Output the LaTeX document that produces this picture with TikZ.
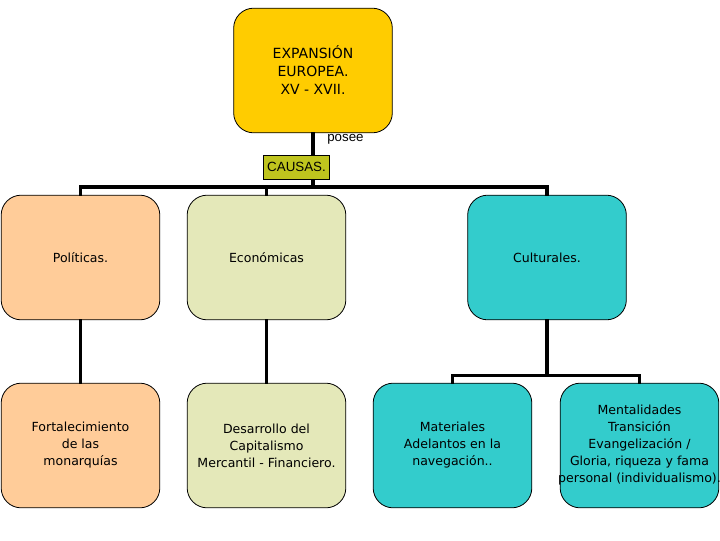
\documentclass[tikz,border=0pt]{standalone}
\usepackage{fontspec}
\setmainfont{DejaVu Sans}
\newfontfamily\arialfont{Liberation Sans}
\definecolor{cgold}{HTML}{FFCC00}
\definecolor{cpeach}{HTML}{FFCC99}
\definecolor{cpale}{HTML}{E4E8B9}
\definecolor{cteal}{HTML}{33CCCC}
\definecolor{colive}{HTML}{BFC41E}
\begin{document}
\begin{tikzpicture}[x=0.75pt,y=-0.75pt,
  box/.style={draw=black,line width=0.6pt,rounded corners=15pt,minimum width=119pt,minimum height=93.5pt,inner sep=0pt,align=center,font=\fontsize{9.4}{12.75}\selectfont},
  conn/.style={line width=2.5pt,line cap=rect}]
\useasboundingbox (0,0) rectangle (720,540);
% nodes
\node[box,fill=cgold,font=\fontsize{10.5}{13.5}\selectfont] (top) at (313,70.5) {EXPANSIÓN\\ EUROPEA.\\ XV - XVII.};
\node[box,fill=cpeach] (pol) at (80.5,257.5) {Políticas.};
\node[box,fill=cpale] (eco) at (266.5,257.5) {Económicas};
\node[box,fill=cteal] (cul) at (547,257.5) {Culturales.};
\node[box,fill=cpeach] (fort) at (80.5,445.5) {Fortalecimiento\\ de las\\ monarquías};
\node[box,fill=cpale] (des) at (266.5,445.5) {Desarrollo del\\ Capitalismo\\ Mercantil - Financiero.};
\node[box,fill=cteal] (mat) at (452.5,445.5) {Materiales\\ Adelantos en la\\ navegación..};
\node[box,fill=cteal] (ment) at (639.5,445.5) {};
\node[align=center,inner sep=0pt,font=\fontsize{9.4}{12.75}\selectfont] (mentText) at (ment.center) {Mentalidades\\ Transición\\ Evangelización /\\ Gloria, riqueza y fama\\ personal (individualismo).};
\coordinate (bus) at (313,187);
\coordinate (bus2) at (547,375.5);
% connectors
\draw[conn] (top.south) -- (top.south |- bus);
\draw[conn] (pol.north) |- (bus) -| (cul.north);
\draw[conn] (eco.north) -- (eco.north |- bus);
\draw[conn] (pol.south) -- (fort.north);
\draw[conn] (eco.south) -- (des.north);
\draw[conn] (cul.south) -- (bus2);
\draw[conn] (mat.north) |- (bus2) -| (ment.north);
% label box on the top connector
\node[draw=black,line width=0.6pt,fill=colive,minimum width=50pt,minimum height=18pt,inner sep=1pt,font=\arialfont\fontsize{10}{11}\selectfont] (causas) at (296.5,167) {CAUSAS.};
\node[anchor=west,inner sep=0pt,font=\arialfont\fontsize{10}{11}\selectfont] (posee) at (327,139) {posee};
\end{tikzpicture}
\end{document}
